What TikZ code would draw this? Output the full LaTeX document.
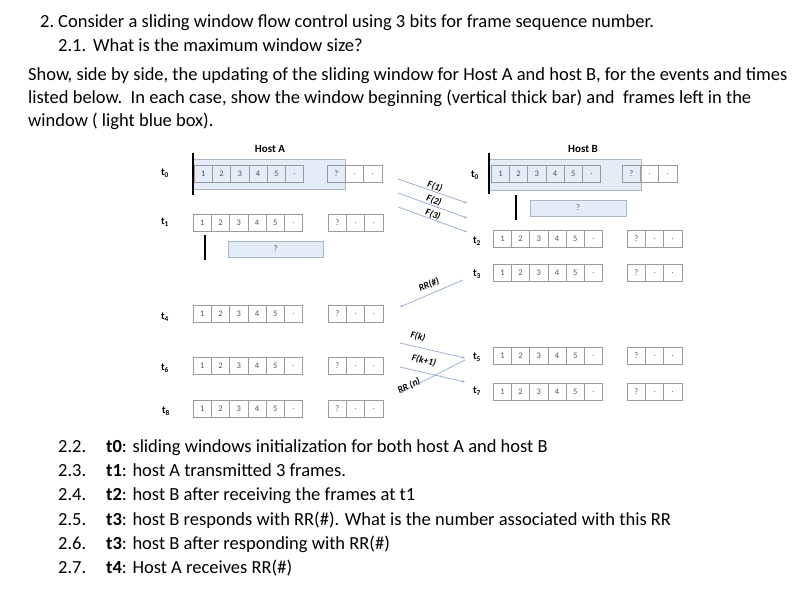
\documentclass[tikz,border=0pt]{standalone}
\usepackage{fontspec}
\setmainfont{Carlito}
\usetikzlibrary{arrows.meta}
\definecolor{cellgray}{HTML}{9A9A9A}
\definecolor{winfill}{HTML}{E3ECF7}
\definecolor{windraw}{HTML}{A9B6C4}
\definecolor{arrowblue}{HTML}{93A9CF}
\definecolor{celltext}{HTML}{555555}
\tikzset{
 cellbox/.style={draw=cellgray, line width=0.6pt, minimum width=18.2pt, minimum height=17pt, inner sep=0pt, font=\fontsize{8.5}{9}\selectfont, text=celltext, anchor=north west},
 winbox/.style={draw=windraw, fill=winfill, line width=0.8pt, inner sep=0pt, font=\fontsize{8.5}{9}\selectfont, text=celltext},
 winbar/.style={line width=2.2pt, black},
 tlabel/.style={font=\fontsize{10.5}{11}\selectfont\bfseries, inner sep=0pt},
 hostlabel/.style={font=\fontsize{11}{12}\selectfont\bfseries, inner sep=0pt},
 msg/.style={draw=arrowblue, line width=0.7pt, -{Stealth[length=3pt,width=2.5pt]}},
 msglabel/.style={font=\fontsize{9.5}{10}\selectfont\bfseries\itshape, inner sep=0pt},
 body/.style={font=\fontsize{18.5}{21}\selectfont, anchor=base west, inner sep=0pt},
}
\newcommand{\cellrow}[4]{%
 \foreach \lab [count=\i from 0] in {1,2,3,4,5,.}{
   \node[cellbox] (#1a\i) at ({#2+18.2*\i},#4) {\lab};}
 \foreach \lab [count=\i from 0] in {?,.,.}{
   \node[cellbox] (#1b\i) at ({#3+18.2*\i},#4) {\lab};}
}
\newcommand{\tl}[1]{t\textsubscript{#1}}
\begin{document}
\begin{tikzpicture}[x=1pt,y=-1pt]
\useasboundingbox[fill=white] (0,0) rectangle (797,592);
% header text
\node[body] (n2) at (40,27) {2.};
\node[body] (l1) at (58,27) {Consider a sliding window flow control using 3 bits for frame sequence number.};
\node[body] (n21) at (58,51) {2.1.};
\node[body] (l2) at (93,51) {What is the maximum window size?};
\node[body] (l3) at (28,80) {Show, side by side, the updating of the sliding window for Host A and host B, for the events and times};
\node[body] (l4) at (28,103) {listed below.\ \ In each case, show the window beginning (vertical thick bar) and\ \ frames left in the};
\node[body] (l5) at (28,126) {window ( light blue box).};
% host labels
\node[hostlabel] (hA) at (270,149) {Host A};
\node[hostlabel] (hB) at (583,149) {Host B};
% windows (blue boxes)
\node[winbox, minimum width=152pt, minimum height=30pt] (wA0) at (269,174) {};
\node[winbox, minimum width=95pt, minimum height=16pt] (wA1) at (275.5,249) {?};
\node[winbox, minimum width=152pt, minimum height=31pt] (wB0) at (565,174.5) {};
\node[winbox, minimum width=96pt, minimum height=16pt] (wB1) at (578,208) {?};
% bars
\coordinate (bA0t) at (193,153); \coordinate (bA0b) at (193,195);
\coordinate (bA1t) at (205,235); \coordinate (bA1b) at (205,260);
\coordinate (bB0t) at (489,153); \coordinate (bB0b) at (489,194);
\coordinate (bB1t) at (516,195); \coordinate (bB1b) at (516,220);
\draw[winbar] (bA0t) -- (bA0b);
\draw[winbar] (bA1t) -- (bA1b);
\draw[winbar] (bB0t) -- (bB0b);
\draw[winbar] (bB1t) -- (bB1b);
% cell rows host A
\cellrow{At0}{194}{327}{165}
\cellrow{At1}{193}{328}{214}
\cellrow{At4}{193}{328}{305}
\cellrow{At6}{193}{328}{357}
\cellrow{At8}{193}{328}{400}
% cell rows host B
\cellrow{Bt0}{491}{622}{165}
\cellrow{Bt2}{493}{627}{230}
\cellrow{Bt3}{493}{627}{264}
\cellrow{Bt5}{493}{627}{347}
\cellrow{Bt7}{493}{627}{383}
% time labels
\node[tlabel] (tA0) at (165,173) {\tl{0}};
\node[tlabel] (tA1) at (165,222) {\tl{1}};
\node[tlabel] (tA4) at (165,317) {\tl{4}};
\node[tlabel] (tA6) at (165,368) {\tl{6}};
\node[tlabel] (tA8) at (166,411) {\tl{8}};
\node[tlabel] (tB0) at (475,175) {\tl{0}};
\node[tlabel] (tB2) at (477,241) {\tl{2}};
\node[tlabel] (tB3) at (477,274) {\tl{3}};
\node[tlabel] (tB5) at (477,357) {\tl{5}};
\node[tlabel] (tB7) at (477,391) {\tl{7}};
% message arrows
\coordinate (f1s) at (398,179); \coordinate (f1e) at (467,203);
\coordinate (f2s) at (398,193); \coordinate (f2e) at (467,218);
\coordinate (f3s) at (398,207); \coordinate (f3e) at (467,232);
\coordinate (rrs) at (463,280); \coordinate (rre) at (400,307);
\coordinate (fks) at (400,343); \coordinate (fke) at (465,358);
\coordinate (fk1s) at (400,367); \coordinate (fk1e) at (465,382);
\coordinate (rns) at (465,360); \coordinate (rne) at (400,393);
\draw[msg] (f1s) -- (f1e);
\draw[msg] (f2s) -- (f2e);
\draw[msg] (f3s) -- (f3e);
\draw[msg] (rrs) -- (rre);
\draw[msg] (fks) -- (fke);
\draw[msg] (fk1s) -- (fk1e);
\draw[msg] (rns) -- (rne);
\node[msglabel, rotate=-19] (lf1) at (435,186.5) {F(1)};
\node[msglabel, rotate=-19] (lf2) at (434,200.5) {F(2)};
\node[msglabel, rotate=-19] (lf3) at (433,214.5) {F(3)};
\node[msglabel, rotate=23] (lrr) at (429,285) {RR(\#)};
\node[msglabel, rotate=-13] (lfk) at (418,336.5) {F(k)};
\node[msglabel, rotate=-13] (lfk1) at (424,360.5) {F(k+1)};
\node[msglabel, rotate=27] (lrn) at (409,386) {RR (n)};
% bottom list
\node[body] (m22) at (58,452) {2.2.};
\node[body] (m23) at (58,476) {2.3.};
\node[body] (m24) at (58,500) {2.4.};
\node[body] (m25) at (58,525) {2.5.};
\node[body] (m26) at (58,549) {2.6.};
\node[body] (m27) at (58,573) {2.7.};
\node[body] (q22) at (106,452) {\textbf{t0}: sliding windows initialization for both host A and host B};
\node[body] (q23) at (106,476) {\textbf{t1}: host A transmitted 3 frames.};
\node[body] (q24) at (106,500) {\textbf{t2}: host B after receiving the frames at t1};
\node[body] (q25) at (106,525) {\textbf{t3}: host B responds with RR(\#). What is the number associated with this RR};
\node[body] (q26) at (106,549) {\textbf{t3}: host B after responding with RR(\#)};
\node[body] (q27) at (106,573) {\textbf{t4}: Host A receives RR(\#)};
\end{tikzpicture}
\end{document}
